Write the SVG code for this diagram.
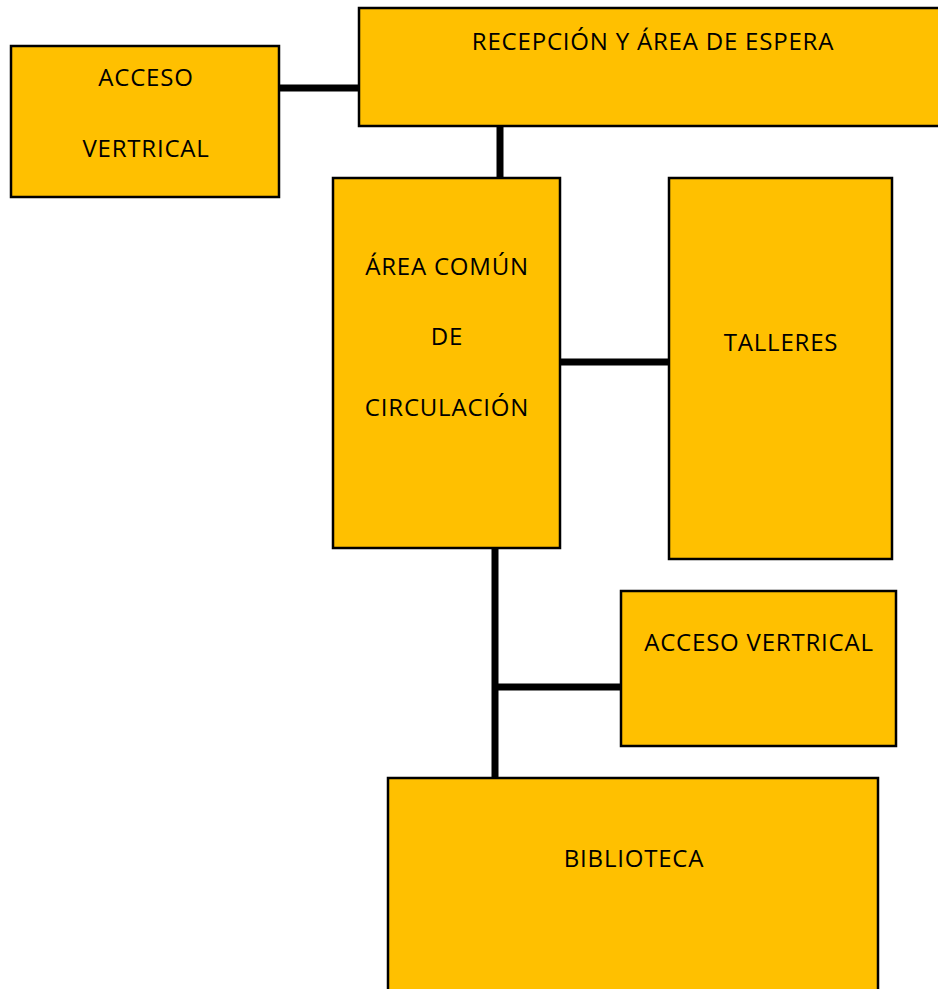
<svg xmlns="http://www.w3.org/2000/svg" width="938" height="989" viewBox="0 0 938 989">
<style>
.box{fill:#FFC000;stroke:#000;stroke-width:2.5}
.lbl{font-family:"Open Sans","Liberation Sans",sans-serif;font-size:24px;letter-spacing:0.8px;fill:#000;text-anchor:middle}
.con{stroke:#000;stroke-width:7;fill:none}
</style>
<rect width="938" height="989" fill="#fff"/>
<g id="connectors">
<line class="con" x1="279" y1="88" x2="359" y2="88"/>
<line class="con" x1="500" y1="126" x2="500" y2="178"/>
<line class="con" x1="560" y1="362" x2="669" y2="362"/>
<line class="con" x1="495" y1="548" x2="495" y2="778"/>
<line class="con" x1="495" y1="687" x2="621" y2="687"/>
</g>
<g id="acceso1">
<rect class="box" x="11" y="46" width="268" height="151"/>
<text class="lbl" x="146" y="86">ACCESO</text>
<text class="lbl" x="146" y="157">VERTRICAL</text>
</g>
<g id="recepcion">
<rect class="box" x="359" y="8" width="590" height="118"/>
<text class="lbl" x="653" y="50">RECEPCIÓN Y ÁREA DE ESPERA</text>
</g>
<g id="areacomun">
<rect class="box" x="333" y="178" width="227" height="370"/>
<text class="lbl" x="447" y="275">ÁREA COMÚN</text>
<text class="lbl" x="447" y="345">DE</text>
<text class="lbl" x="447" y="416">CIRCULACIÓN</text>
</g>
<g id="talleres">
<rect class="box" x="669" y="178" width="223" height="381"/>
<text class="lbl" x="781" y="351">TALLERES</text>
</g>
<g id="acceso2">
<rect class="box" x="621" y="591" width="275" height="155"/>
<text class="lbl" x="759" y="651">ACCESO VERTRICAL</text>
</g>
<g id="biblioteca">
<rect class="box" x="388" y="778" width="490" height="230"/>
<text class="lbl" x="634" y="867">BIBLIOTECA</text>
</g>
</svg>
